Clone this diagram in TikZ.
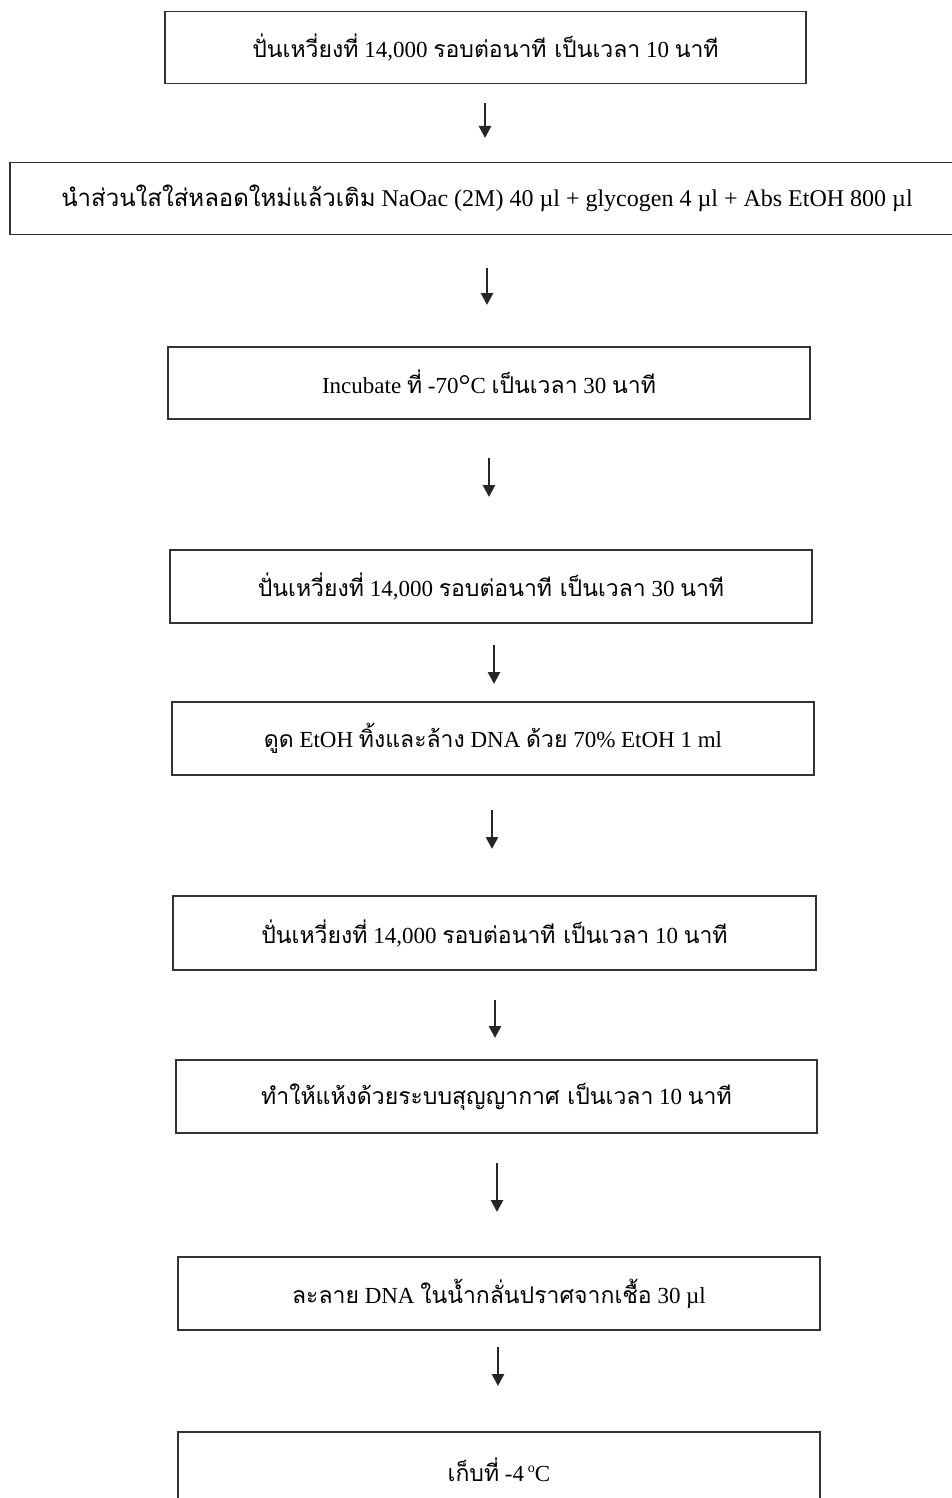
\documentclass[tikz,border=0pt]{standalone}
\usepackage{fontspec}
\setmainfont{Liberation Serif}
\newfontfamily\thai[Script=Thai]{Loma}
\usetikzlibrary{arrows.meta}
\tikzset{
  stepbox/.style={draw=black!80,line width=1.6pt,minimum height=72pt,inner sep=0pt,font=\fontsize{23}{26}\selectfont},
  flowarrow/.style={draw=black!85,line width=2.6pt,-{Triangle[length=12pt,width=12pt]}}
}
\begin{document}
\begin{tikzpicture}[x=1pt,y=-1pt]
\useasboundingbox (0,0) rectangle (952,1498);
\clip (0,0) rectangle (952,1498);
\node[stepbox,minimum width=641pt] (b1) at (485.5,47.5) {{\thai ปั่นเหวี่ยงที่} 14,000 {\thai รอบต่อนาที เป็นเวลา} 10 {\thai นาที}};
\node[stepbox,minimum width=954pt,font=\fontsize{24}{27}\selectfont] (b2) at (487,198.5) {{\thai นำส่วนใสใส่หลอดใหม่แล้วเติม} NaOac (2M) 40 µl + glycogen 4 µl + Abs EtOH 800 µl};
\node[stepbox,minimum width=642pt] (b3) at (489,383) {Incubate {\thai ที่} -70{\fontsize{30}{30}\selectfont\raisebox{-2pt}{°}}C {\thai เป็นเวลา} 30 {\thai นาที}};
\node[stepbox,minimum width=642pt,minimum height=73pt] (b4) at (491,586.5) {{\thai ปั่นเหวี่ยงที่} 14,000 {\thai รอบต่อนาที เป็นเวลา} 30 {\thai นาที}};
\node[stepbox,minimum width=642pt,minimum height=73pt] (b5) at (493,738.5) {{\thai ดูด} EtOH {\thai ทิ้งและล้าง} DNA {\thai ด้วย} 70\% EtOH 1 ml};
\node[stepbox,minimum width=643pt,minimum height=74pt] (b6) at (494.5,933) {{\thai ปั่นเหวี่ยงที่} 14,000 {\thai รอบต่อนาที เป็นเวลา} 10 {\thai นาที}};
\node[stepbox,minimum width=641pt,minimum height=73pt] (b7) at (496.5,1096.5) {{\thai ทำให้แห้งด้วยระบบสุญญากาศ เป็นเวลา} 10 {\thai นาที}};
\node[stepbox,minimum width=642pt,minimum height=73pt] (b8) at (499,1293.5) {{\thai ละลาย} DNA {\thai ในน้ำกลั่นปราศจากเชื้อ} 30 µl};
\node[stepbox,minimum width=642pt,minimum height=76pt] (b9) at (499,1470) {{\thai เก็บที่} -4\,\raisebox{9pt}{\fontsize{14}{14}\selectfont o}C};
\coordinate (a1s) at (485,103); \coordinate (a1e) at (485,138);
\coordinate (a2s) at (487,268); \coordinate (a2e) at (487,305);
\coordinate (a3s) at (489,458); \coordinate (a3e) at (489,497);
\coordinate (a4s) at (494,645); \coordinate (a4e) at (494,684);
\coordinate (a5s) at (492,810); \coordinate (a5e) at (492,849);
\coordinate (a6s) at (495,1000); \coordinate (a6e) at (495,1038);
\coordinate (a7s) at (497,1163); \coordinate (a7e) at (497,1212);
\coordinate (a8s) at (498,1347); \coordinate (a8e) at (498,1386);
\foreach \i in {1,...,8} { \draw[flowarrow] (a\i s) -- (a\i e); }
\end{tikzpicture}
\end{document}
